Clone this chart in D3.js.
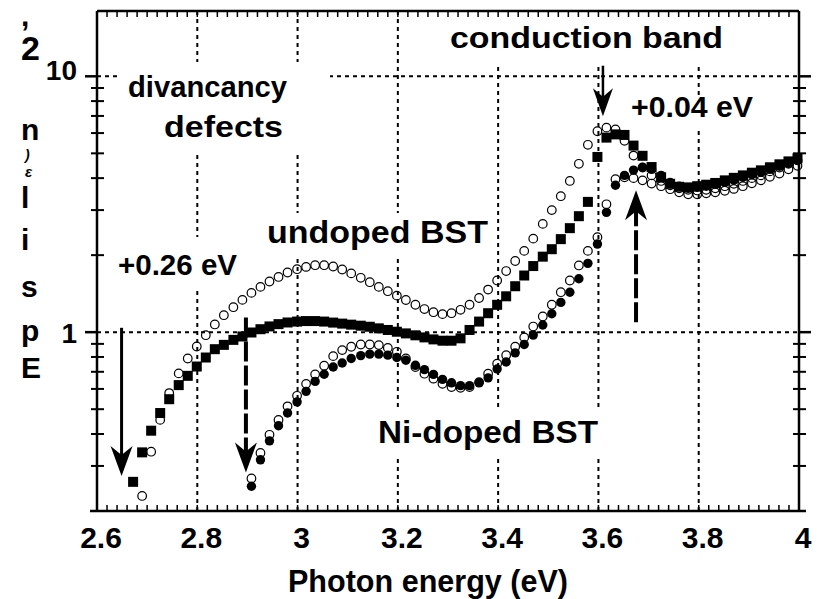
<!DOCTYPE html>
<html><head><meta charset="utf-8">
<script src="https://cdn.jsdelivr.net/npm/d3@7"></script>
<style>
body{margin:0;background:#fff}
svg{display:block}
text{font-family:"Liberation Sans",Arial,Helvetica,sans-serif;font-weight:bold;fill:#000}
</style>
</head><body><svg id="c" width="817" height="599"></svg>
<script>
// Photon energies (eV) of the measured points
const energy = [2.672,2.690,2.708,2.726,2.744,2.763,2.781,2.799,2.817,2.835,2.853,2.872,2.890,2.908,2.926,2.944,2.962,2.980,2.999,3.017,3.035,3.053,3.071,3.089,3.107,3.126,3.144,3.162,3.180,3.198,3.216,3.235,3.253,3.271,3.289,3.307,3.325,3.343,3.362,3.380,3.398,3.416,3.434,3.452,3.470,3.489,3.507,3.525,3.543,3.561,3.579,3.598,3.616,3.634,3.652,3.670,3.688,3.706,3.725,3.743,3.761,3.779,3.797,3.815,3.833,3.852,3.870,3.888,3.906,3.924,3.942,3.961,3.979,3.997];
// undoped BST, open circles (upper curve)
const undopedOpen = [null,0.229,0.341,0.454,0.578,0.690,0.789,0.879,0.973,1.072,1.165,1.252,1.337,1.424,1.503,1.578,1.644,1.711,1.762,1.799,1.827,1.827,1.806,1.758,1.697,1.631,1.568,1.503,1.446,1.389,1.336,1.280,1.231,1.197,1.176,1.186,1.223,1.280,1.360,1.467,1.592,1.733,1.897,2.078,2.32,2.65,3.0,3.4,3.9,4.55,5.4,6.1,6.3,6.2,5.6,4.9,4.4,4.1,3.9,3.75,3.65,3.6,3.58,3.6,3.65,3.72,3.8,3.9,4.0,4.1,4.25,4.4,4.55,4.7];
// undoped BST, filled squares
const undopedSquare = [0.260,0.339,0.412,0.483,0.547,0.621,0.675,0.734,0.796,0.858,0.892,0.933,0.962,0.997,1.027,1.053,1.075,1.091,1.100,1.105,1.105,1.100,1.090,1.080,1.070,1.060,1.050,1.035,1.020,1.004,0.989,0.972,0.954,0.937,0.926,0.926,0.946,1.020,1.100,1.186,1.279,1.381,1.512,1.665,1.813,1.973,2.11,2.31,2.55,2.84,3.23,4.84,5.76,5.93,5.90,5.36,4.89,4.42,4.03,3.80,3.70,3.68,3.72,3.77,3.83,3.92,4.01,4.10,4.20,4.29,4.41,4.53,4.65,4.78];
// Ni-doped BST, filled circles
const niFilled = [null,null,null,null,null,null,null,null,null,null,null,null,null,0.250,0.317,0.376,0.431,0.483,0.534,0.587,0.642,0.685,0.731,0.758,0.789,0.810,0.821,0.821,0.813,0.796,0.777,0.742,0.714,0.684,0.654,0.634,0.618,0.618,0.634,0.663,0.718,0.765,0.830,0.895,0.974,1.067,1.180,1.307,1.432,1.617,1.858,2.21,2.94,3.75,4.10,4.30,4.41,4.33,4.10,3.85,3.72,3.65,3.68,3.72,3.79,3.85,3.94,4.03,4.13,4.22,4.33,4.45,4.57,4.69];
// Ni-doped BST, open circles
const niOpen = [null,null,null,null,null,null,null,null,null,null,null,null,null,0.268,0.337,0.397,0.454,0.513,0.564,0.628,0.684,0.739,0.806,0.851,0.877,0.895,0.895,0.890,0.868,0.838,0.789,0.731,0.688,0.658,0.628,0.610,0.606,0.610,0.638,0.688,0.753,0.813,0.877,0.954,1.052,1.152,1.280,1.433,1.592,1.823,2.078,2.35,3.16,3.96,4.03,4.0,3.92,3.81,3.72,3.62,3.52,3.46,3.46,3.49,3.52,3.57,3.63,3.72,3.82,3.92,4.05,4.17,4.33,4.47];

const xTickValues = [2.6,2.8,3,3.2,3.4,3.6,3.8,4];
const xTickLabels = ["2.6","2.8","3","3.2","3.4","3.6","3.8","4"];
const yTickValues = [1,10];
const yTickLabels = ["1","10"];
const yMinorValues = [0.3,0.4,0.5,0.6,0.7,0.8,0.9,2,3,4,5,6,7,8,9];
const xTitle = "Photon energy (eV)";
const yTitleChars = [",","2","n",")","ε","l","i","s","p","E"];

const svg = d3.select("#c");
const L=97,R=799,T=11,B=511;
const x = d3.scaleLinear().domain([2.6,4.0]).range([L,R]);
const y = d3.scaleLog().domain([0.2,18]).range([B,T]);

// grid
const grid = svg.append("g").attr("stroke","#000").attr("stroke-width",2).attr("stroke-dasharray","4,4");
xTickValues.slice(1,-1).forEach(v=>grid.append("line").attr("x1",x(v)).attr("x2",x(v)).attr("y1",T).attr("y2",B));
yTickValues.forEach(v=>grid.append("line").attr("x1",L).attr("x2",R).attr("y1",y(v)).attr("y2",y(v)));

// white label boxes (hide grid)
const boxes = [[440,12,290,54],[117,62,213,91],[622,95,140,32],[110,237,135,51],[258,213,237,42],[370,408,235,48]];
boxes.forEach(b=>svg.append("rect").attr("x",b[0]).attr("y",b[1]).attr("width",b[2]).attr("height",b[3]).attr("fill","#fff"));

// annotations
const notes = [
 {t:"conduction band",x:450,y:48,w:273,fs:29},
 {t:"divancancy",x:128,y:97,w:159,fs:29},
 {t:"defects",x:164,y:137,w:119,fs:29},
 {t:"+0.04 eV",x:631,y:117,w:122,fs:29},
 {t:"+0.26 eV",x:118,y:275,w:119,fs:30},
 {t:"undoped BST",x:267,y:243,w:221,fs:31},
 {t:"Ni-doped BST",x:378,y:443,w:220,fs:31}
];
notes.forEach(n=>svg.append("text").attr("x",n.x).attr("y",n.y).attr("font-size",n.fs)
  .attr("textLength",n.w).attr("lengthAdjust","spacingAndGlyphs").text(n.t));

// frame
const fr = svg.append("g").attr("stroke","#000").attr("fill","none");
fr.append("line").attr("x1",90).attr("x2",806).attr("y1",B).attr("y2",B).attr("stroke-width",2.5);
fr.append("line").attr("x1",L).attr("x2",L).attr("y1",T).attr("y2",B).attr("stroke-width",2.5);
fr.append("line").attr("x1",L).attr("x2",R).attr("y1",T).attr("y2",T).attr("stroke-width",2.5);
fr.append("line").attr("x1",R).attr("x2",R).attr("y1",T).attr("y2",B).attr("stroke-width",2.5);

// x minor ticks top & bottom
const xMinor = d3.range(0,71).map(i=>2.6+i*0.02);
xMinor.forEach(v=>{
  fr.append("line").attr("x1",x(v)).attr("x2",x(v)).attr("y1",B).attr("y2",B-6).attr("stroke-width",1.5);
  fr.append("line").attr("x1",x(v)).attr("x2",x(v)).attr("y1",T).attr("y2",T+6).attr("stroke-width",1.5);
});
// y minor ticks left & right (crossing)
yMinorValues.forEach(v=>{
  fr.append("line").attr("x1",L-6).attr("x2",L+7).attr("y1",y(v)).attr("y2",y(v)).attr("stroke-width",2);
  fr.append("line").attr("x1",R-6).attr("x2",R+7).attr("y1",y(v)).attr("y2",y(v)).attr("stroke-width",2);
});
yTickValues.forEach(v=>{
  fr.append("line").attr("x1",L-12).attr("x2",L).attr("y1",y(v)).attr("y2",y(v)).attr("stroke-width",2.5);
  fr.append("line").attr("x1",R).attr("x2",R+12).attr("y1",y(v)).attr("y2",y(v)).attr("stroke-width",2.5);
});

// tick labels
xTickValues.forEach((v,i)=>svg.append("text").attr("x",x(v)+4).attr("y",548).attr("font-size",30)
  .attr("text-anchor","middle").text(xTickLabels[i]));
yTickValues.forEach((v,i)=>svg.append("text").attr("x",77).attr("y",y(v)+(v===10?4:11)).attr("font-size",28)
  .attr("text-anchor","end").text(yTickLabels[i]));

// axis titles
svg.append("text").attr("x",288).attr("y",592).attr("font-size",32).attr("textLength",280)
  .attr("lengthAdjust","spacingAndGlyphs").text(xTitle);
// y title: upright characters stacked vertically
const yb = [26,60,140,160,177,208,250,297,341,378];
const yfs = [30,34,30,14,15,30,30,30,30,30];
yTitleChars.forEach((c,i)=>{
  const t = svg.append("text").attr("x",(c===")"||c==="ε")?25:21).attr("y",yb[i]).attr("font-size",yfs[i]).text(c);
  if(c===")"||c==="ε") t.attr("font-weight","normal").attr("font-style","italic");
});

// data
const pts = arr => energy.map((e,i)=>({e,v:arr[i]})).filter(d=>d.v!=null);
const dg = svg.append("g");
dg.selectAll(".uo").data(pts(undopedOpen)).join("circle").attr("cx",d=>x(d.e)).attr("cy",d=>y(d.v))
  .attr("r",4.3).attr("fill","none").attr("stroke","#000").attr("stroke-width",1.2);
dg.selectAll(".no").data(pts(niOpen)).join("circle").attr("cx",d=>x(d.e)).attr("cy",d=>y(d.v))
  .attr("r",4.3).attr("fill","none").attr("stroke","#000").attr("stroke-width",1.2);
dg.selectAll(".us").data(pts(undopedSquare)).join("rect").attr("x",d=>x(d.e)-5).attr("y",d=>y(d.v)-5)
  .attr("width",10).attr("height",10).attr("fill","#000");
dg.selectAll(".nf").data(pts(niFilled)).join("circle").attr("cx",d=>x(d.e)).attr("cy",d=>y(d.v))
  .attr("r",4.7).attr("fill","#000");

// arrows
const arrows = [
 {x:2.649,from:1.04,to:0.274,dash:null,w:3,hw:11,hl:30},
 {x:2.897,from:1.14,to:0.283,dash:"20,4",w:4,hw:11,hl:30},
 {x:3.609,from:11.0,to:6.98,dash:null,w:2.5,hw:10,hl:28},
 {x:3.675,from:1.094,to:3.59,dash:"20,4",w:4,hw:11,hl:30}
];
arrows.forEach(a=>{
  const x0=x(a.x), y0=y(a.from), y1=y(a.to), dir = y1>y0?1:-1;
  svg.append("line").attr("x1",x0).attr("x2",x0).attr("y1",y0).attr("y2",y1-dir*a.hl*0.6)
    .attr("stroke","#000").attr("stroke-width",a.w).attr("stroke-dasharray",a.dash);
  const p = `M${x0},${y1} L${x0-a.hw},${y1-dir*a.hl} L${x0},${y1-dir*a.hl*0.7} L${x0+a.hw},${y1-dir*a.hl} Z`;
  svg.append("path").attr("d",p).attr("fill","#000");
});
</script></body></html>
